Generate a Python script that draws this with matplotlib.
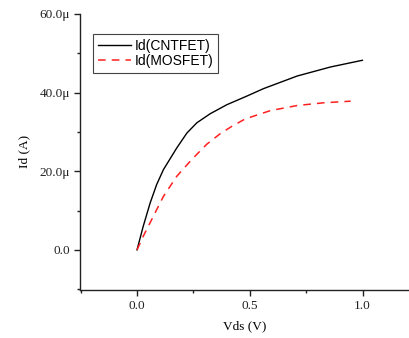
import matplotlib
matplotlib.use("Agg")
import matplotlib.pyplot as plt
from matplotlib.ticker import FuncFormatter, MultipleLocator

vds_cnt = [0.0, 0.027, 0.058, 0.087, 0.117, 0.176, 0.221, 0.265, 0.324, 0.398,
           0.487, 0.561, 0.71, 0.858, 0.999]
id_cnt = [0.0, 5.9, 11.9, 16.6, 20.4, 25.9, 29.7, 32.3, 34.6, 36.9,
          39.1, 41.0, 44.2, 46.5, 48.2]
vds_mos = [0.0, 0.027, 0.072, 0.117, 0.176, 0.243, 0.310, 0.368, 0.42, 0.48,
           0.591, 0.71, 0.828, 0.947]
id_mos = [0.0, 3.4, 8.5, 13.6, 18.7, 23.0, 26.9, 29.5, 31.4, 33.3,
          35.4, 36.7, 37.4, 37.8]

serif = ["Liberation Serif", "DejaVu Serif"]
sans = ["Liberation Sans", "DejaVu Sans"]

fig = plt.figure(figsize=(4.1, 3.38), dpi=100)
ax = fig.add_axes([0.195, 0.142, 0.805, 0.817])

ax.plot(vds_cnt, [v * 1e-6 for v in id_cnt], color="black", lw=1.0, label="Id(CNTFET)")
ax.plot(vds_mos, [v * 1e-6 for v in id_mos], color="#ff2020", lw=1.1, ls=(0, (5, 4)), label="Id(MOSFET)")

ax.set_xlim(-0.253, 1.21)
ax.set_ylim(-10.2e-6, 60e-6)
ax.spines["top"].set_visible(False)
ax.spines["right"].set_visible(False)
for s in ("left", "bottom"):
    ax.spines[s].set_linewidth(1.0)
    ax.spines[s].set_color("#222222")

ax.xaxis.set_major_locator(MultipleLocator(0.5))
ax.xaxis.set_minor_locator(MultipleLocator(0.25))
ax.yaxis.set_major_locator(MultipleLocator(20e-6))
ax.yaxis.set_minor_locator(MultipleLocator(10e-6))

def yfmt(v, pos):
    if abs(v) < 1e-12:
        return "0.0"
    return f"{v*1e6:.1f}\u03bc"

ax.yaxis.set_major_formatter(FuncFormatter(yfmt))
ax.xaxis.set_major_formatter(FuncFormatter(lambda v, p: f"{v:.1f}"))
ax.tick_params(which="major", direction="out", length=4, width=1.0, colors="#222222", labelsize=9.5, pad=3)
ax.tick_params(which="minor", direction="out", length=2.5, width=1.0, colors="#222222")
for lab in ax.get_xticklabels() + ax.get_yticklabels():
    lab.set_fontfamily(serif)

ax.set_xlabel("Vds (V)", fontfamily=serif, fontsize=9.5, labelpad=6)
ax.set_ylabel("Id (A)", fontfamily=serif, fontsize=9.5, labelpad=7)

leg = ax.legend(loc="upper left", bbox_to_anchor=(0.039, 0.928), prop={"family": sans, "size": 10},
                frameon=True, fancybox=False, edgecolor="#444444", framealpha=1,
                handlelength=2.4, borderpad=0.35, labelspacing=0.12, handletextpad=0.25, borderaxespad=0)
leg.get_frame().set_linewidth(0.8)

fig.savefig("out.png", dpi=100)
